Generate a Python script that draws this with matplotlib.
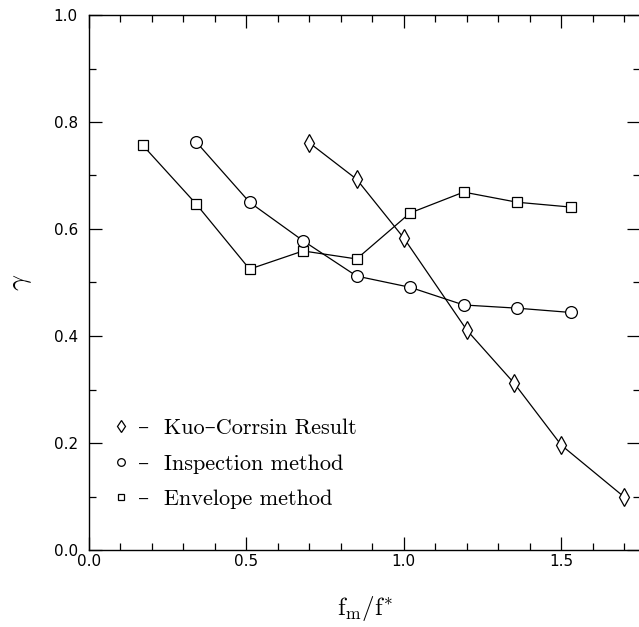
import matplotlib.pyplot as plt
from matplotlib.lines import Line2D
from matplotlib.ticker import MultipleLocator

plt.rcParams['font.family'] = ['cmr10', 'DejaVu Serif']
plt.rcParams['mathtext.fontset'] = 'cm'
plt.rcParams['axes.formatter.use_mathtext'] = True

# data
kuo_x = [0.70, 0.85, 1.00, 1.20, 1.35, 1.50, 1.70]
kuo_y = [0.761, 0.693, 0.583, 0.411, 0.312, 0.196, 0.099]

insp_x = [0.34, 0.51, 0.68, 0.85, 1.02, 1.19, 1.36, 1.53]
insp_y = [0.763, 0.650, 0.578, 0.512, 0.491, 0.458, 0.452, 0.444]

env_x = [0.17, 0.34, 0.51, 0.68, 0.85, 1.02, 1.19, 1.36, 1.53]
env_y = [0.757, 0.647, 0.525, 0.559, 0.544, 0.630, 0.669, 0.650, 0.641]

labels = ["\u2013  Kuo\u2013Corrsin Result",
          "\u2013  Inspection method",
          "\u2013  Envelope method"]

fig = plt.figure(figsize=(6.39, 6.27), dpi=100)
ax = fig.add_axes([89 / 639, 77 / 627, 551 / 639, 535 / 627])

style = dict(color="black", lw=0.9, mfc="white", mec="black", mew=0.9)
ax.plot(env_x, env_y, marker="s", ms=7, **style)
ax.plot(insp_x, insp_y, marker="o", ms=8.5, **style)
ax.plot(kuo_x, kuo_y, marker="d", ms=9, **style)

ax.set_xlim(0, 1.75)
ax.set_ylim(0, 1.0)
ax.xaxis.set_major_locator(MultipleLocator(0.5))
ax.xaxis.set_minor_locator(MultipleLocator(0.1))
ax.yaxis.set_major_locator(MultipleLocator(0.2))
ax.yaxis.set_minor_locator(MultipleLocator(0.1))
ax.xaxis.set_major_formatter(lambda v, p: f"{v:.1f}")
ax.yaxis.set_major_formatter(lambda v, p: f"{v:.1f}")
ax.tick_params(which="both", direction="in", top=True, right=True,
               width=0.9)
ax.tick_params(which="major", length=9.5)
ax.tick_params(which="minor", length=5)
ax.tick_params(axis="x", which="major", pad=3)
ax.tick_params(axis="y", which="major", pad=8)
for lab in ax.get_xticklabels() + ax.get_yticklabels():
    lab.set_fontfamily("DejaVu Sans")
    lab.set_fontsize(11)
for s in ax.spines.values():
    s.set_linewidth(1.0)

ax.set_xlabel(r"$\mathrm{f_m/f^{*}}$", fontsize=18, labelpad=18)
ax.set_ylabel(r"$\gamma$", fontsize=20)
ax.yaxis.set_label_coords(-0.1, 0.5)

handles = [Line2D([], [], ls="none", marker=m, ms=ms, mfc="white",
                  mec="black", mew=0.9)
           for m, ms in [("d", 6), ("o", 5.5), ("s", 5)]]
ax.legend(handles, labels, loc="lower left", bbox_to_anchor=(0.012, 0.039),
          frameon=False, fontsize=16, handlelength=0.5, handletextpad=0.5,
          labelspacing=0.72)

fig.savefig("out.png", dpi=100)
